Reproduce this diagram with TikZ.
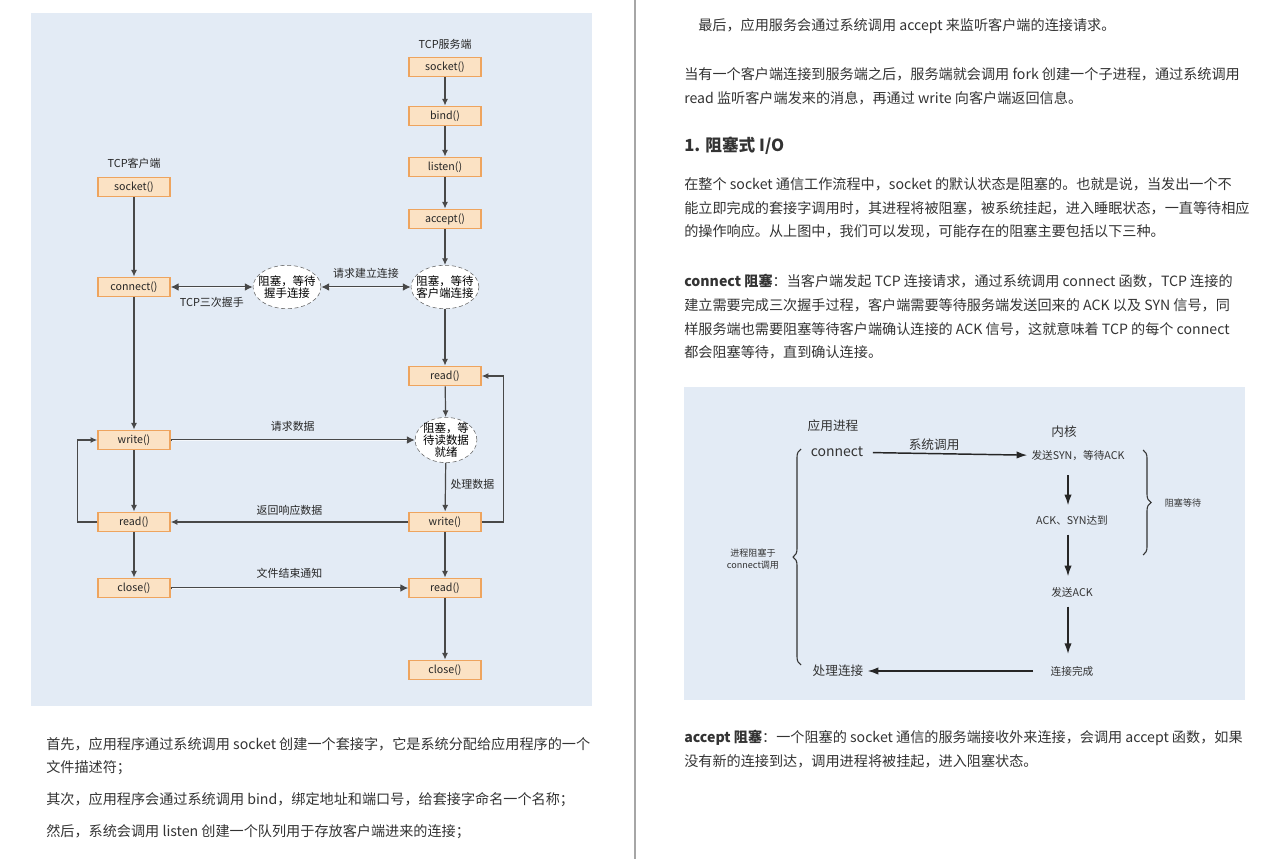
\documentclass[tikz,border=0pt]{standalone}
\usepackage{fontspec}
\setmainfont{Noto Sans CJK SC}
\usetikzlibrary{arrows.meta,shapes.geometric,decorations.pathreplacing}
\definecolor{panelblue}{HTML}{E3EBF5}
\definecolor{boxfill}{HTML}{FBE2C4}
\definecolor{boxline}{HTML}{EEA45E}
\definecolor{flowgray}{HTML}{484848}
\definecolor{bodytext}{HTML}{333333}
\newlength{\CallWidth}
\newlength{\CallHeight}
\setlength{\CallWidth}{54pt}
\setlength{\CallHeight}{14.5pt}
\tikzset{
  call node/.style={draw=boxline, fill=boxfill, line width=1.1pt, minimum width=\CallWidth,
    minimum height=\CallHeight, inner sep=0pt, text=black!85, font=\fontsize{8}{9}\selectfont},
  wait node/.style={draw=gray!75!black, dash pattern=on 3pt off 2pt, fill=white, ellipse,
    inner xsep=-3.5pt, inner ysep=3pt, align=center, font=\fontsize{8.6}{9}\selectfont},
  side label/.style={font=\fontsize{8.2}{9}\selectfont, text=black!85},
  flow/.style={draw=flowgray, line width=0.9pt, -{Latex[length=5pt,width=4.5pt]}},
  request/.style={draw=flowgray, line width=2.2pt, -{Latex[length=6pt,width=6pt]},
    postaction={draw=panelblue!40!white, line width=0.7pt, -, shorten <=1pt, shorten >=6pt}},
  handshake/.style={draw=flowgray, line width=2.2pt, {Latex[length=6pt,width=6pt]}-{Latex[length=6pt,width=6pt]},
    postaction={draw=panelblue!40!white, line width=0.7pt, -, shorten <=6pt, shorten >=6pt}},
  body line/.style={anchor=west, text=bodytext, inner sep=0pt, font=\fontsize{10.6}{13}\selectfont},
  kernel text/.style={text=black!80, inner sep=1pt, font=\fontsize{8}{9}\selectfont},
  app text/.style={text=black!80, inner sep=1pt, font=\fontsize{9.5}{11}\selectfont},
  kernel flow/.style={draw=black!85, line width=1.1pt, -{Latex[length=8pt,width=5.5pt]}},
  curly/.style={draw=black!80, line width=0.8pt, decorate, decoration={brace, amplitude=6pt}},
}

\begin{document}
\begin{tikzpicture}[x=0.75pt, y=-0.75pt]
  \useasboundingbox (0,0) rectangle (1276,859);
  \fill[panelblue] (31,13) rectangle (592,706);
  \fill[panelblue] (684,387) rectangle (1245,700);
  \draw[gray!70, line width=0.8pt] (635,0) -- (635,859);

  % TCP server
  \node[side label] (srvtitle) at (445,44) {TCP服务端};
  \node[call node] (ssocket) at (445,67) {socket()};
  \node[call node] (sbind) at (445,116) {bind()};
  \node[call node] (slisten) at (445,167) {listen()};
  \node[call node] (saccept) at (445,219) {accept()};
  \node[wait node] (swait) at (445,287) {阻塞，等待\\客户端连接};
  \node[call node] (sread) at (445,376) {read()};
  \node[wait node, inner xsep=-0.8pt, inner ysep=-0.8pt, font=\fontsize{8.6}{8.8}\selectfont] (sdata) at (446,440) {阻塞，等\\待读数据\\就绪};
  \node[call node] (swrite) at (445,522) {write()};
  \node[call node] (sreadend) at (445,588) {read()};
  \node[call node] (sclose) at (445,670) {close()};

  % TCP client
  \node[side label] (clititle) at (134,163) {TCP客户端};
  \node[call node] (csocket) at (134,187) {socket()};
  \node[call node] (cconnect) at (134,287) {connect()};
  \node[wait node] (cwait) at (287,287) {阻塞，等待\\握手连接};
  \node[call node] (cwrite) at (134,440) {write()};
  \node[call node] (cread) at (134,522) {read()};
  \node[call node] (cclose) at (134,588) {close()};

  \draw[flow] (ssocket) -- (sbind);
  \draw[flow] (sbind) -- (slisten);
  \draw[flow] (slisten) -- (saccept);
  \draw[flow] (saccept) -- (swait);
  \draw[flow] (swait) -- (sread);
  \draw[flow] (sread) -- (sdata);
  \draw[flow] (sdata) -- node[side label, right, pos=0.45] {处理数据} (swrite);
  \draw[flow] (swrite) -- (sreadend);
  \draw[flow] (sreadend) -- (sclose);
  \draw[flow] (swrite.east) -- ++(22,0) |- (sread.east);

  \draw[flow] (csocket) -- (cconnect);
  \draw[flow] (cconnect) -- (cwrite);
  \draw[flow] (cwrite) -- (cread);
  \draw[flow] (cread) -- (cclose);
  \draw[flow] (cread.west) -- ++(-20,0) |- (cwrite.west);

  \draw[handshake] (cconnect) -- node[side label, below=3pt] {TCP三次握手} (cwait);
  \draw[handshake] (cwait) -- node[side label, above=2pt] {请求建立连接} (swait);
  \draw[request] (cwrite) -- node[side label, above=2pt] {请求数据} (sdata);
  \draw[flow] (swrite) -- node[side label, above=1pt] {返回响应数据} (cread);
  \draw[request] (cclose) -- node[side label, above=3pt] {文件结束通知} (sreadend);

  % connect blocking, kernel side
  \node[app text] (apptitle) at (833,426) {应用进程};
  \node[app text] (kerneltitle) at (1064,432) {内核};
  \node[app text, font=\fontsize{10.5}{12}\selectfont] (appconnect) at (837,452) {connect};
  \node[kernel text] (sendsyn) at (1078,456) {发送SYN，等待ACK};
  \node[kernel text] (synack) at (1072,520) {ACK、SYN达到};
  \node[kernel text] (sendack) at (1072,592) {发送ACK};
  \node[kernel text] (done) at (1072,671) {连接完成};
  \node[app text] (handle) at (838,671) {处理连接};
  \node[kernel text, font=\fontsize{6.8}{8.5}\selectfont, align=center] (blockapp) at (753,559) {进程阻塞于\\connect调用};
  \node[kernel text, font=\fontsize{6.8}{8.5}\selectfont] (blockwait) at (1183,503) {阻塞等待};

  \draw[kernel flow, shorten <=6pt, shorten >=2pt] (appconnect) -- node[app text, above=1pt, pos=0.42] {系统调用} (sendsyn);
  \draw[kernel flow, shorten <=7pt, shorten >=5pt] (1068,466) -- (1068,512);
  \draw[kernel flow, shorten <=5pt, shorten >=5pt] (1068,528) -- (1068,583);
  \draw[kernel flow, shorten <=5pt, shorten >=6pt] (1068,600) -- (1068,662);
  \draw[kernel flow, shorten <=12pt, shorten >=2pt] (done) -- (handle);

  \coordinate (appbracetop) at (801,449);
  \coordinate (appbracebot) at (801,665);
  \coordinate (kerbracetop) at (1143,450);
  \coordinate (kerbracebot) at (1143,555);
  \draw[curly] (appbracebot) -- (appbracetop);
  \draw[curly] (kerbracetop) -- (kerbracebot);

  % page text
  \node[body line] (l1) at (46,744) {首先，应用程序通过系统调用 socket 创建一个套接字，它是系统分配给应用程序的一个};
  \node[body line] (l2) at (46,768) {文件描述符；};
  \node[body line] (l3) at (46,800) {其次，应用程序会通过系统调用 bind，绑定地址和端口号，给套接字命名一个名称；};
  \node[body line] (l4) at (46,832) {然后，系统会调用 listen 创建一个队列用于存放客户端进来的连接；};

  \node[body line] (r1) at (698,26) {最后，应用服务会通过系统调用 accept 来监听客户端的连接请求。};
  \node[body line] (r2) at (684,74) {当有一个客户端连接到服务端之后，服务端就会调用 fork 创建一个子进程，通过系统调用};
  \node[body line] (r3) at (684,98) {read 监听客户端发来的消息，再通过 write 向客户端返回信息。};
  \node[body line, font=\fontsize{12.5}{14}\selectfont\bfseries] (head) at (684,146) {1. 阻塞式 I/O};
  \node[body line] (r4) at (684,184) {在整个 socket 通信工作流程中，socket 的默认状态是阻塞的。也就是说，当发出一个不};
  \node[body line] (r5) at (684,208) {能立即完成的套接字调用时，其进程将被阻塞，被系统挂起，进入睡眠状态，一直等待相应};
  \node[body line] (r6) at (684,231) {的操作响应。从上图中，我们可以发现，可能存在的阻塞主要包括以下三种。};
  \node[body line] (r7) at (684,281) {\textbf{connect 阻塞}：当客户端发起 TCP 连接请求，通过系统调用 connect 函数，TCP 连接的};
  \node[body line] (r8) at (684,305) {建立需要完成三次握手过程，客户端需要等待服务端发送回来的 ACK 以及 SYN 信号，同};
  \node[body line] (r9) at (684,329) {样服务端也需要阻塞等待客户端确认连接的 ACK 信号，这就意味着 TCP 的每个 connect};
  \node[body line] (r10) at (684,352) {都会阻塞等待，直到确认连接。};
  \node[body line] (r11) at (684,738) {\textbf{accept 阻塞}：一个阻塞的 socket 通信的服务端接收外来连接，会调用 accept 函数，如果};
  \node[body line] (r12) at (684,761) {没有新的连接到达，调用进程将被挂起，进入阻塞状态。};
\end{tikzpicture}
\end{document}
